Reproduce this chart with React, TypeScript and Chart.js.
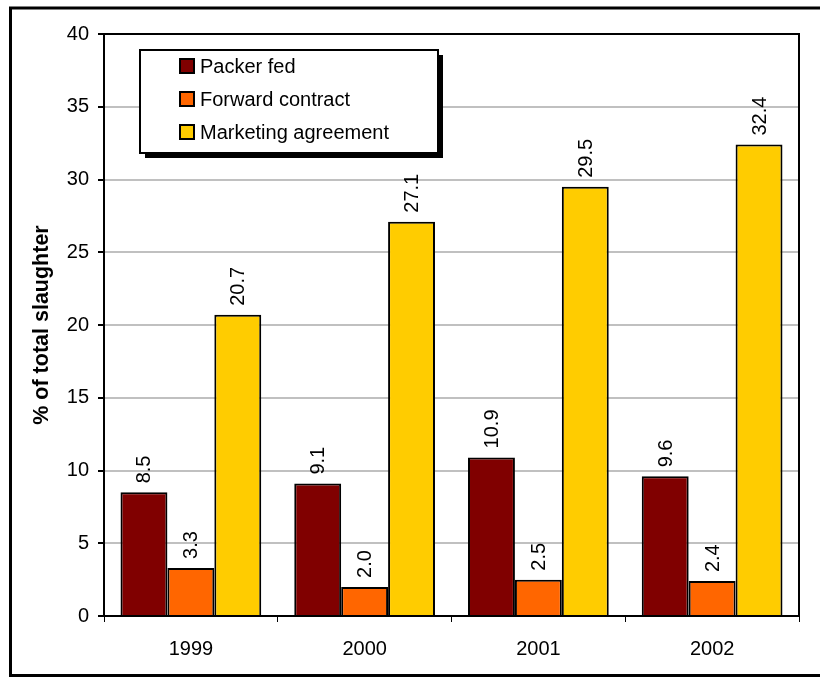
import React, { useEffect, useRef } from "react";
import { Chart, registerables } from "chart.js";

Chart.register(...registerables);

const categories = ["1999", "2000", "2001", "2002"];
const packerFed = [8.5, 9.1, 10.9, 9.6];
const forwardContract = [3.3, 2.0, 2.5, 2.4];
const marketingAgreement = [20.7, 27.1, 29.5, 32.4];
const seriesNames = ["Packer fed", "Forward contract", "Marketing agreement"];
const seriesColors = ["#800000", "#FF6600", "#FFCC00"];
const yTitle = "% of total slaughter";

const FONT = "'Liberation Sans', Arial, sans-serif";
const FS = 20;

const framePlugin = {
  id: "frame",
  beforeDraw(chart: any) {
    const ctx = chart.ctx;
    ctx.save();
    ctx.fillStyle = "#ffffff";
    ctx.fillRect(0, 0, chart.width, chart.height);
    ctx.strokeStyle = "#000";
    ctx.lineWidth = 3;
    ctx.strokeRect(10.5, 8, 840, 667.5);
    ctx.restore();
  },
  afterDatasetsDraw(chart: any) {
    const { ctx, chartArea } = chart;
    ctx.save();
    ctx.strokeStyle = "#000";
    ctx.lineWidth = 2;
    ctx.strokeRect(chartArea.left, chartArea.top, chartArea.right - chartArea.left, chartArea.bottom - chartArea.top);
    ctx.restore();
  },
};

const labelPlugin = {
  id: "barLabels",
  afterDatasetsDraw(chart: any) {
    const ctx = chart.ctx;
    ctx.save();
    ctx.font = `${FS}px ${FONT}`;
    ctx.fillStyle = "#000";
    ctx.textAlign = "left";
    ctx.textBaseline = "middle";
    chart.data.datasets.forEach((ds: any, i: number) => {
      const meta = chart.getDatasetMeta(i);
      meta.data.forEach((bar: any, j: number) => {
        const v = ds.data[j] as number;
        ctx.save();
        ctx.translate(bar.x + 1, bar.y - 9);
        ctx.rotate(-Math.PI / 2);
        ctx.fillText(v.toFixed(1), 0, 0);
        ctx.restore();
      });
    });
    ctx.restore();
  },
};

const legendPlugin = {
  id: "customLegend",
  afterDraw(chart: any) {
    const ctx = chart.ctx;
    const x = 140, y = 50, w = 298, h = 103;
    ctx.save();
    ctx.fillStyle = "#000";
    ctx.fillRect(x + 5, y + 5, w, h);
    ctx.fillStyle = "#fff";
    ctx.fillRect(x, y, w, h);
    ctx.strokeStyle = "#000";
    ctx.lineWidth = 2;
    ctx.strokeRect(x, y, w, h);
    ctx.font = `${FS}px ${FONT}`;
    ctx.textAlign = "left";
    ctx.textBaseline = "middle";
    seriesNames.forEach((name, i) => {
      const cy = 66 + i * 33;
      ctx.fillStyle = seriesColors[i];
      ctx.fillRect(180, cy - 7, 14, 14);
      ctx.strokeStyle = "#000";
      ctx.lineWidth = 2;
      ctx.strokeRect(180, cy - 7, 14, 14);
      ctx.fillStyle = "#000";
      ctx.fillText(name, 200, cy + 1);
    });
    ctx.restore();
  },
};

export default function App() {
  const ref = useRef<HTMLCanvasElement | null>(null);
  useEffect(() => {
    if (!ref.current) return;
    const values = [packerFed, forwardContract, marketingAgreement];
    const chart = new Chart(ref.current, {
      type: "bar",
      data: {
        labels: categories,
        datasets: seriesNames.map((name, i) => ({
          label: name,
          data: values[i],
          backgroundColor: seriesColors[i],
          borderColor: "#000",
          borderWidth: 2,
          categoryPercentage: 0.81,
          barPercentage: 1,
        })),
      },
      options: {
        responsive: false,
        animation: false,
        devicePixelRatio: 1,
        layout: { padding: { top: 34, right: 21, left: 0, bottom: 0 } },
        plugins: { legend: { display: false }, tooltip: { enabled: false } },
        scales: {
          x: {
            grid: { display: true, drawOnChartArea: false, tickLength: 6, tickColor: "#000", offset: true },
            border: { color: "#000", width: 2 },
            ticks: { color: "#000", font: { family: FONT, size: FS }, padding: 15 },
            afterFit: (s: any) => { s.height = 61; },
          },
          y: {
            min: 0,
            max: 40,
            ticks: { stepSize: 5, color: "#000", font: { family: FONT, size: FS }, padding: 9 },
            grid: { color: "#c0c0c0", lineWidth: 2, tickLength: 6, tickColor: "#000" },
            border: { color: "#000", width: 2 },
            title: {
              display: true,
              text: yTitle,
              color: "#000",
              font: { family: FONT, size: 21.5, weight: "bold" },
              padding: { top: 29, bottom: 0 },
            },
            afterFit: (s: any) => { s.width = 104; },
          },
        },
      },
      plugins: [framePlugin, labelPlugin, legendPlugin],
    });
    return () => chart.destroy();
  }, []);
  return (
    <div style={{ position: "fixed", left: 0, top: 0, width: 820, height: 677 }}>
      <canvas ref={ref} width={820} height={677} style={{ display: "block" }} />
    </div>
  );
}
